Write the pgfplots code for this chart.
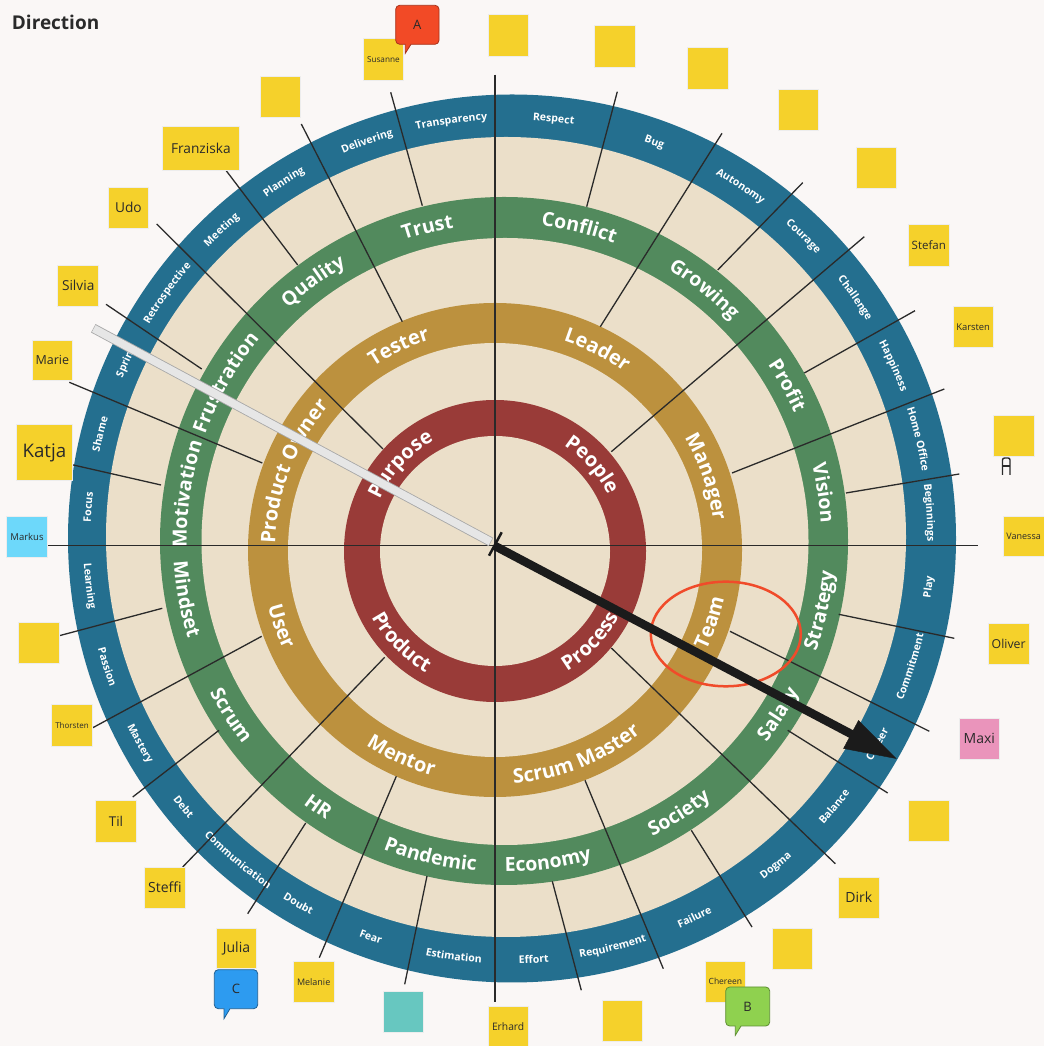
\documentclass[border=0pt]{standalone}
\usepackage{fontspec}
\setmainfont{Open Sans}
\usepackage{pgfplots}
\pgfplotsset{compat=1.18}
\usetikzlibrary{decorations.text}

\definecolor{bg}{HTML}{FAF7F6}
\definecolor{ringblue}{HTML}{246F8F}
\definecolor{beige}{HTML}{EBDFC9}
\definecolor{ringgreen}{HTML}{528A5D}
\definecolor{ringgold}{HTML}{BC913E}
\definecolor{ringred}{HTML}{993B38}
\definecolor{sticky}{HTML}{F5D12B}
\definecolor{stickyblue}{HTML}{6DD8FA}
\definecolor{stickyteal}{HTML}{67C7C0}
\definecolor{stickypink}{HTML}{EA94BB}
\definecolor{bubred}{HTML}{F24A26}
\definecolor{bubredD}{HTML}{A8321A}
\definecolor{bubgreen}{HTML}{8FD14F}
\definecolor{bubgreenD}{HTML}{5E8F33}
\definecolor{bubblue}{HTML}{2D9BF0}
\definecolor{bubblueD}{HTML}{1E5F94}
\definecolor{ink}{HTML}{2A2A2A}
\definecolor{arrowblack}{HTML}{1B1B1B}
\definecolor{barfill}{HTML}{E6E6E6}
\definecolor{barline}{HTML}{A8A8A8}
\definecolor{ellred}{HTML}{F04B2A}

% ring text, top half (clockwise path): cx cy rmid px py fs text
\newcommand\rT[7]{%
  \pgfmathsetmacro\rtA{atan2(#2-#5,#4-#1)}%
  \pgfmathsetmacro\rtR{#3-0.35*#6}%
  \pgfmathsetmacro\rtS{\rtA+70}%
  \pgfmathsetmacro\rtE{\rtA-70}%
  \edef\rtDo{\noexpand\path[overlay,decorate,decoration={text along path,text align=center,text={\unexpanded{|\fontsize{#6}{#6}\selectfont\bfseries\color{white}|#7}}}] (axis cs:#1,-#2) ++(\rtS:\rtR pt) arc[start angle=\rtS,end angle=\rtE,radius=\rtR pt];}%
  \rtDo}
% ring text, bottom half (counter-clockwise path)
\newcommand\rB[7]{%
  \pgfmathsetmacro\rtA{atan2(#2-#5,#4-#1)}%
  \pgfmathsetmacro\rtR{#3+0.35*#6}%
  \pgfmathsetmacro\rtS{\rtA-70}%
  \pgfmathsetmacro\rtE{\rtA+70}%
  \edef\rtDo{\noexpand\path[overlay,decorate,decoration={text along path,text align=center,text={\unexpanded{|\fontsize{#6}{#6}\selectfont\bfseries\color{white}|#7}}}] (axis cs:#1,-#2) ++(\rtS:\rtR pt) arc[start angle=\rtS,end angle=\rtE,radius=\rtR pt];}%
  \rtDo}

\newcommand\seg[4]{\addplot[ink, line width=1.3pt, no marks, forget plot] coordinates {(#1,-#2) (#3,-#4)};}

\newcommand\note[7]{%
  \filldraw[fill=#5, draw=black!7, line width=0.6pt] (axis cs:#1,-#2) rectangle (axis cs:#3,-#4);
  \node[text=ink, inner sep=0pt, font=\fontsize{#6}{#6}\selectfont] at (axis cs:{(#1+#3)/2},{-(#2+#4)/2}) {#7};}

\begin{document}
\begin{tikzpicture}
\begin{axis}[scale only axis, width=1044pt, height=1046pt,
  xmin=0, xmax=1044, ymin=-1046, ymax=0, enlargelimits=false,
  hide axis, clip=true]

% background
\fill[bg] (axis cs:0,0) rectangle (axis cs:1044,-1046);

% rings
\fill[ringblue] (axis cs:512,-538.5) circle[radius=444pt];
\fill[beige] (axis cs:506,-537) circle[radius=400pt];
\fill[ringgreen] (axis cs:504,-541) circle[radius=344pt];
\fill[beige] (axis cs:505,-541.5) circle[radius=303.5pt];
\fill[ringgold] (axis cs:495,-550) circle[radius=247pt];
\fill[beige] (axis cs:495,-550) circle[radius=207pt];
\fill[ringred] (axis cs:495,-551) circle[radius=151pt];
\fill[beige] (axis cs:495,-551) circle[radius=115pt];

% blue ring words
\rT{509}{538}{422}{451.3}{121.7}{10.5}{Transparency}
\rT{509}{538}{422}{553.7}{118.3}{10.5}{Respect}
\rT{509}{538}{422}{654}{143.3}{10.5}{Bug}
\rT{509}{538}{422}{740.3}{186.7}{10.5}{Autonomy}
\rT{509}{538}{422}{805}{235}{10.5}{Courage}
\rT{509}{538}{422}{857}{296.7}{10.5}{Challenge}
\rT{509}{538}{422}{897}{364}{10.5}{Happiness}
\rT{509}{538}{422}{922.7}{438.3}{10.5}{Home Office}
\rT{509}{538}{422}{933.3}{512.3}{10.5}{Beginnings}
\rT{509}{538}{422}{86}{506.7}{10.5}{Focus}
\rT{509}{538}{422}{99}{434}{10.5}{Shame}
\rT{509}{538}{422}{123}{361}{10.5}{Sprint}
\rT{509}{538}{422}{164.3}{291}{10.5}{Retrospective}
\rT{509}{538}{422}{221}{229.3}{10.5}{Meeting}
\rT{509}{538}{422}{284.3}{182.7}{10.5}{Planning}
\rT{509}{538}{422}{364.7}{135}{10.5}{Delivering}
\rB{509}{538}{422}{931}{587.3}{10.5}{Play}
\rB{509}{538}{422}{912.7}{667.3}{10.5}{Commitment}
\rB{509}{538}{422}{876}{743.7}{10.5}{Career}
\rB{509}{538}{422}{834.3}{807}{10.5}{Balance}
\rB{509}{538}{422}{774.3}{863.7}{10.5}{Dogma}
\rB{509}{538}{422}{692}{912}{10.5}{Failure}
\rB{509}{538}{422}{612.3}{945.3}{10.5}{Requirement}
\rB{509}{538}{422}{533.7}{959.3}{10.5}{Effort}
\rB{509}{538}{422}{454}{954.7}{10.5}{Estimation}
\rB{509}{538}{422}{372}{933.7}{10.5}{Fear}
\rB{509}{538}{422}{300}{901}{10.5}{Doubt}
\rB{509}{538}{422}{236.7}{861.3}{10.5}{Communication}
\rB{509}{538}{422}{183.3}{807}{10.5}{Debt}
\rB{509}{538}{422}{141}{743}{10.5}{Mastery}
\rB{509}{538}{422}{108.3}{666.3}{10.5}{Passion}
\rB{509}{538}{422}{90.7}{585.7}{10.5}{Learning}

% green ring words
\rT{504}{541}{324}{427.3}{226.7}{19.5}{Trust}
\rT{504}{541}{324}{579.7}{226}{19.5}{Conflict}
\rT{504}{541}{324}{706}{287}{19.5}{Growing}
\rT{504}{541}{324}{784.3}{387.3}{19.5}{Profit}
\rT{504}{541}{324}{823.3}{493}{19.5}{Vision}
\rT{504}{541}{324}{186.7}{494}{19.5}{Motivation}
\rT{504}{541}{324}{221}{380}{19.5}{Frustration}
\rT{504}{541}{324}{311.7}{279.3}{19.5}{Quality}
\rB{504}{541}{324}{817.7}{609.7}{19.5}{Strategy}
\rB{504}{541}{324}{775}{712}{19.5}{Salary}
\rB{504}{541}{324}{678}{812}{19.5}{Society}
\rB{504}{541}{324}{548}{862.7}{19.5}{Economy}
\rB{504}{541}{324}{431.3}{853}{19.5}{Pandemic}
\rB{504}{541}{324}{319.3}{805.3}{19.5}{HR}
\rB{504}{541}{324}{230}{716}{19.5}{Scrum}
\rB{504}{541}{324}{186.7}{599}{19.5}{Mindset}

% gold ring words
\rT{495}{550}{227}{399}{347}{20}{Tester}
\rT{495}{550}{227}{596}{352}{20}{Leader}
\rT{495}{550}{227}{709.3}{475.7}{20}{Manager}
\rT{495}{550}{227}{286.7}{469}{20}{Product Owner}
\rB{495}{550}{227}{708}{622}{20}{Team}
\rB{495}{550}{227}{578}{760.3}{20}{Scrum Master}
\rB{495}{550}{227}{402.3}{754.3}{20}{Mentor}
\rB{495}{550}{227}{283.3}{625.7}{20}{User}

% red ring words
\rT{495}{551}{133}{398}{462.3}{20}{Purpose}
\rT{495}{551}{133}{593}{464}{20}{People}
\rB{495}{551}{133}{399.7}{644}{20}{Product}
\rB{495}{551}{133}{589.7}{640.7}{20}{Process}

% connector lines
\seg{301.3}{124}{402.3}{321.7}
\seg{390.7}{92.3}{422.3}{205.7}
\seg{495}{74.7}{495}{1002}
\seg{617.3}{91.7}{586.7}{206.7}
\seg{722}{133.3}{600.3}{326.7}
\seg{802.7}{182.7}{717.7}{270}
\seg{864.3}{236.7}{611.3}{451.7}
\seg{915}{310.7}{804.3}{373}
\seg{944.3}{389}{732}{473}
\seg{959.3}{474}{846}{493}
\seg{47.3}{545.7}{977.7}{545.7}
\seg{954.3}{638.3}{838.7}{614.3}
\seg{730}{631.3}{929.3}{731.3}
\seg{787.7}{730.3}{887.7}{793}
\seg{611.3}{648}{835.3}{863.7}
\seg{691.3}{830.3}{752}{927}
\seg{585}{780.3}{663.3}{968.7}
\seg{552.3}{881.3}{581.3}{990.3}
\seg{427}{876}{404.7}{984.3}
\seg{396.3}{776.3}{319.3}{957.7}
\seg{305.7}{823}{247.7}{913.7}
\seg{384.7}{657.3}{182.7}{867}
\seg{219}{730.3}{132.7}{797}
\seg{261.7}{636.3}{92.3}{728}
\seg{162.3}{608.3}{59.3}{635.7}
\seg{161}{485}{72}{464.7}
\seg{262.3}{463}{69.3}{382.3}
\seg{201.7}{369}{106}{304.3}
\seg{383}{449}{156.7}{224}
\seg{297.7}{265}{225.7}{170}

% sticky notes
\note{260}{76.7}{300.7}{117.3}{sticky}{10}{}
\note{162.7}{126}{239}{170}{sticky}{13.7}{Franziska}
\note{108}{187.3}{148.7}{228.3}{sticky}{13.7}{Udo}
\note{57.7}{265.3}{98.7}{306}{sticky}{13.7}{Silvia}
\note{32}{340}{72.7}{380.7}{sticky}{12.5}{Marie}
\note{16.7}{424.7}{72}{480.7}{sticky}{18.7}{Katja}
\note{6.7}{516}{47.3}{557.3}{stickyblue}{9.5}{Markus}
\note{18.3}{622.3}{59.3}{663.7}{sticky}{10}{}
\note{51.7}{704.3}{92.3}{746.3}{sticky}{8}{Thorsten}
\note{95.7}{800.7}{136.3}{842}{sticky}{13.5}{Til}
\note{144.7}{867}{185.3}{908.3}{sticky}{14}{Steffi}
\note{216.3}{928}{256.7}{968.7}{sticky}{14}{Julia}
\note{293.3}{961.3}{334}{1002.3}{sticky}{9}{Melanie}
\note{383}{991}{423.7}{1032}{stickyteal}{10}{}
\note{488}{1006.3}{528.3}{1047}{sticky}{10.3}{Erhard}
\note{602}{1000.3}{642.7}{1041.3}{sticky}{10}{}
\note{705}{961}{745.7}{1002.3}{sticky}{8.5}{Chereen}
\note{772}{928}{812.7}{969.3}{sticky}{10}{}
\note{838.3}{877}{879.3}{918.3}{sticky}{14}{Dirk}
\note{908.3}{800.7}{949.3}{841.7}{sticky}{10}{}
\note{959}{718}{999.7}{759.3}{stickypink}{14}{Maxi}
\note{988.3}{623.3}{1029}{664.3}{sticky}{12.3}{Oliver}
\note{1003.3}{516}{1044}{556.7}{sticky}{9}{Vanessa}
\note{993.7}{415.3}{1034.3}{456.7}{sticky}{10}{}
\note{953}{306.7}{993.3}{347.7}{sticky}{9.4}{Karsten}
\note{908.3}{224.7}{949.3}{266}{sticky}{11.5}{Stefan}
\note{856}{147}{896.7}{188.3}{sticky}{10}{}
\note{778.3}{89.3}{818.7}{130.3}{sticky}{10}{}
\note{687}{47.7}{728}{89.3}{sticky}{10}{}
\note{594}{25.7}{635.3}{67.3}{sticky}{10}{}
\note{488}{14.7}{528.7}{56}{sticky}{10}{}
\note{363}{38.3}{403.7}{80}{sticky}{8.2}{Susanne}

% speech bubbles
\filldraw[fill=bubred, draw=bubredD, line width=0.8pt] (axis cs:405.3,-44.3) -- (axis cs:405.3,-53.3) -- (axis cs:411,-44.3) [rounded corners=4pt] -- (axis cs:439,-44.3) -- (axis cs:439,-5.3) -- (axis cs:395.7,-5.3) -- (axis cs:395.7,-44.3) [sharp corners] -- cycle;
\node[text=ink, font=\fontsize{13}{13}\selectfont] at (axis cs:417.3,-24.8) {A};
\filldraw[fill=bubgreen, draw=bubgreenD, line width=0.8pt] (axis cs:735.3,-1026) -- (axis cs:735.3,-1035.3) -- (axis cs:741,-1026) [rounded corners=4pt] -- (axis cs:769.7,-1026) -- (axis cs:769.7,-987) -- (axis cs:725.7,-987) -- (axis cs:725.7,-1026) [sharp corners] -- cycle;
\node[text=ink, font=\fontsize{13}{13}\selectfont] at (axis cs:747.7,-1006.5) {B};
\filldraw[fill=bubblue, draw=bubblueD, line width=0.8pt] (axis cs:224,-1008.7) -- (axis cs:224,-1018.7) -- (axis cs:230,-1008.7) [rounded corners=4pt] -- (axis cs:257.7,-1008.7) -- (axis cs:257.7,-969.7) -- (axis cs:214.3,-969.7) -- (axis cs:214.3,-1008.7) [sharp corners] -- cycle;
\node[text=ink, font=\fontsize{13}{13}\selectfont] at (axis cs:236,-989.2) {C};

% small glyph
\addplot[ink, line width=1.4pt, no marks, forget plot, rounded corners=2pt] coordinates {(1002.5,-475) (1002.5,-458) (1010,-458) (1010,-475)};
\addplot[ink, line width=1.4pt, no marks, forget plot] coordinates {(1002.5,-466) (1010,-466)};

% title
\node[anchor=base west, inner sep=0pt, text=ink, font=\fontsize{19}{22}\selectfont\bfseries] at (axis cs:11.7,-29.3) {Direction};

% red ellipse around Team
\draw[ellred, line width=2.5pt] (axis cs:725.8,-634) ellipse[x radius=75pt, y radius=52.3pt];

% grey bar
\addplot[barline, line width=9.5pt, no marks, forget plot] coordinates {(93.3,-328.3) (491,-542)};
\addplot[barfill, line width=7.8pt, no marks, forget plot] coordinates {(93.8,-328.6) (490.5,-541.7)};

% black arrow
\addplot[arrowblack, line width=8.5pt, no marks, forget plot] coordinates {(495,-546) (853,-735)};
\addplot[arrowblack, fill=arrowblack, no marks, forget plot] coordinates {(858.5,-720.5) (843.5,-748.5) (896,-758.5) (858.5,-720.5)} -- cycle;
\addplot[arrowblack, line width=2.5pt, no marks, forget plot] coordinates {(501.7,-532.3) (489,-555.7)};

\end{axis}
\end{tikzpicture}
\end{document}
